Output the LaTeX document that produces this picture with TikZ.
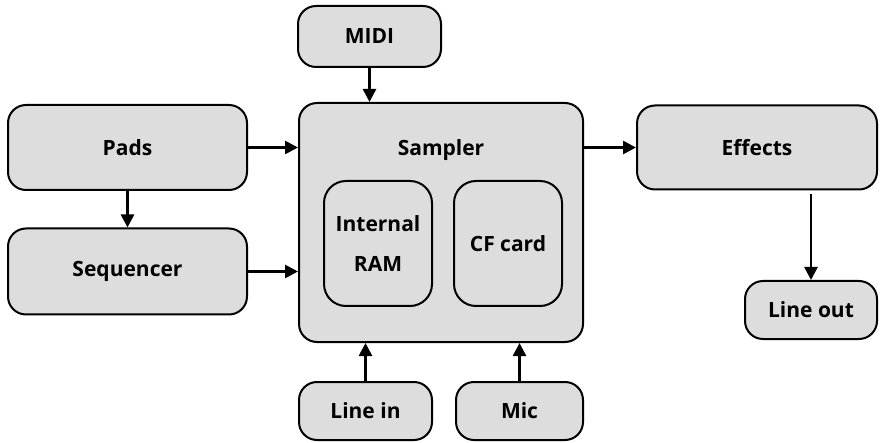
\documentclass[tikz,border=0pt]{standalone}
\usepackage{fontspec}
\setmainfont{Open Sans}
\usetikzlibrary{arrows.meta}
\definecolor{boxgray}{RGB}{221,221,221}
\tikzset{
  blk/.style={draw, line width=2pt, fill=boxgray, rounded corners=18pt, inner sep=0pt,
    font=\bfseries\fontsize{21}{40}\selectfont, align=center},
  flow/.style={-{Triangle[length=13pt,width=13pt]}, line width=2.6pt},
}
\begin{document}
\begin{tikzpicture}[x=1pt,y=-1pt, line join=round]
    \useasboundingbox (0,0) rectangle (880,443);
    % outer blocks
    \node[blk, minimum width=143pt, minimum height=61pt] (midi) at (369.5,36.5) {MIDI};
    \node[blk, minimum width=284pt, minimum height=239pt,
          label={[anchor=north, yshift=-37pt, inner sep=0pt, font=\bfseries\fontsize{21}{24}\selectfont]north:Sampler}]
          (sampler) at (441,222.5) {};
    \node[blk, minimum width=239pt, minimum height=85pt] (pads) at (127.5,147.5) {Pads};
    \node[blk, minimum width=239pt, minimum height=86pt] (seq) at (127.5,271.5) {Sequencer};
    \node[blk, minimum width=240pt, minimum height=84pt] (effects) at (757,147.5) {Effects};
    \node[blk, minimum width=132pt, minimum height=58pt] (lineout) at (811,310) {Line out};
    \node[blk, minimum width=133pt, minimum height=58pt] (linein) at (365.5,411) {Line in};
    \node[blk, minimum width=127pt, minimum height=58pt] (mic) at (519.5,411) {Mic};
    % storage inside the sampler
    \node[blk, minimum width=108pt, minimum height=125pt, rounded corners=22pt] (ram) at (378,243.5) {Internal\\RAM};
    \node[blk, minimum width=108pt, minimum height=125pt, rounded corners=22pt] (cf) at (508,243.5) {CF card};
    % signal flow
    \draw[flow] (midi.south) -- (midi.south |- sampler.north);
    \draw[flow] (pads.east) -- (pads.east -| sampler.west);
    \draw[flow] (seq.east) -- (seq.east -| sampler.west);
    \draw[flow] (pads.south) -- (seq.north);
    \draw[flow] (sampler.east |- pads.east) -- (effects.west |- pads.east);
    \draw[flow] ([yshift=-4pt]lineout.north |- effects.south) -- (lineout.north);
    \draw[flow] (linein.north) -- (linein.north |- sampler.south);
    \draw[flow] (mic.north) -- (mic.north |- sampler.south);
\end{tikzpicture}
\end{document}
